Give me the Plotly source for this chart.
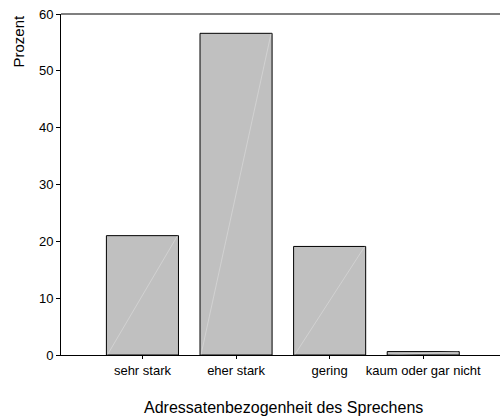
import plotly.graph_objects as go

categories = ["sehr stark", "eher stark", "gering", "kaum oder gar nicht"]
prozent = [21.0, 56.6, 19.1, 0.6]
y_ticks = [0, 10, 20, 30, 40, 50, 60]

bar_width = 0.77
font = "Liberation Sans, Arial, sans-serif"

W, H = 500, 416
L, T, B = 61, 14, 355  # target pixel positions in the window

fig = go.Figure()
fig.add_trace(go.Bar(
    x=list(range(len(categories))), y=prozent, width=bar_width,
    marker=dict(color="#c0c0c0", line=dict(color="#000000", width=1)),
    hoverinfo="skip", showlegend=False,
))
# faint diagonal artefact line inside each bar
for i, v in enumerate(prozent):
    fig.add_trace(go.Scatter(
        x=[i - bar_width / 2 + 0.01, i + bar_width / 2 - 0.01], y=[0, v],
        mode="lines", line=dict(color="rgba(255,255,255,0.35)", width=0.8),
        hoverinfo="skip", showlegend=False,
    ))

pw, ph = W - L, B - T
fig.update_layout(
    width=W, height=H,
    margin=dict(l=L, r=0, t=T, b=H - B, autoexpand=False),
    paper_bgcolor="white", plot_bgcolor="white",
    font=dict(family=font, color="#000000", size=13),
    xaxis=dict(
        range=[-0.87, 3.82], tickmode="array",
        tickvals=list(range(len(categories))), ticktext=categories,
        showline=True, linecolor="#000000", linewidth=1,
        ticks="outside", ticklen=3, tickcolor="#000000",
        showgrid=False, zeroline=False, automargin=False,
        tickfont=dict(size=13),
    ),
    yaxis=dict(
        range=[0, 60], tickvals=y_ticks,
        showline=True, linecolor="#000000", linewidth=1,
        ticks="outside", ticklen=4, tickcolor="#000000",
        showgrid=False, zeroline=False, automargin=False,
        tickfont=dict(size=13),
    ),
    shapes=[dict(type="line", xref="paper", yref="paper", x0=0, x1=1, y0=1, y1=1,
                 line=dict(color="#555555", width=1.5))],
    annotations=[
        dict(text="Adressatenbezogenheit des Sprechens", xref="paper", yref="paper",
             x=(283 - L) / pw, y=-(407 - B) / ph, xanchor="center", yanchor="middle",
             showarrow=False, font=dict(size=16)),
        dict(text="Prozent", xref="paper", yref="paper",
             x=-(L - 17.5) / pw, y=(B - 41) / ph, xanchor="center", yanchor="middle",
             textangle=-90, showarrow=False, font=dict(size=15)),
    ],
)

fig.write_html("out.html", config={"displayModeBar": False},
               post_script="document.body.style.margin='0';")
